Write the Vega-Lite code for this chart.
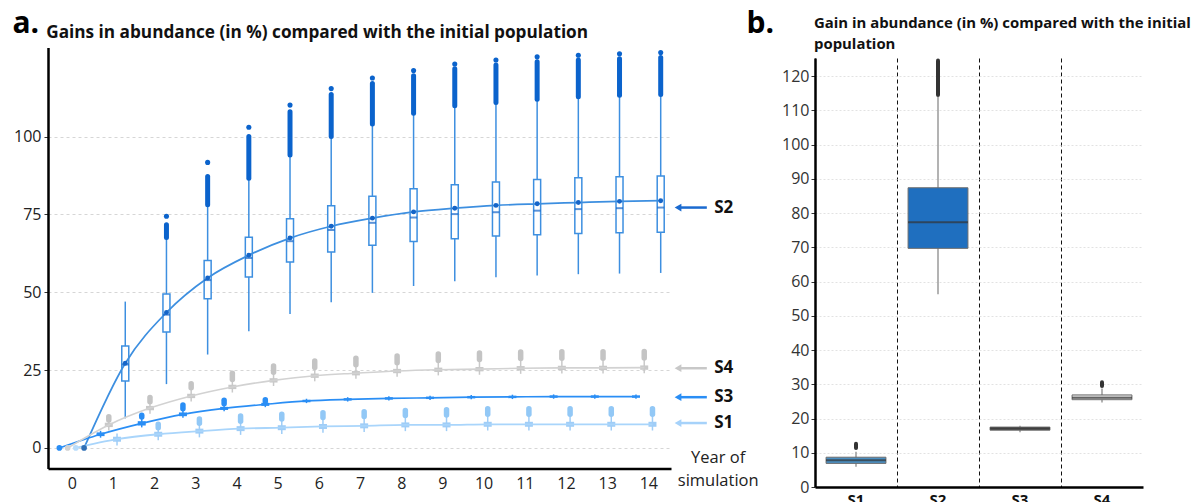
{
  "$schema": "https://vega.github.io/schema/vega-lite/v6.json",
  "padding": {"left": 12, "top": 8, "right": 0, "bottom": 0},
  "spacing": -13,
  "config": {
    "view": {"stroke": null},
    "axis": {"labelFont": "Open Sans", "titleFont": "Open Sans", "labelOverlap": false},
    "text": {"font": "Open Sans"}
  },
  "datasets": {
    "a": [
      {"s": "S2", "year": 0, "mean": 0},
      {"s": "S2", "year": 1, "mean": 27.2, "med": 26.8, "q1": 21.5, "q3": 32.7, "wlo": 9.5, "whi": 47},
      {"s": "S2", "year": 2, "mean": 43.5, "med": 42.8, "q1": 37.2, "q3": 49.4, "wlo": 20.5, "whi": 67.6, "olo": 67.6, "ohi": 71.7, "otop": 74.4},
      {"s": "S2", "year": 3, "mean": 54.6, "med": 53.9, "q1": 47.9, "q3": 60.2, "wlo": 30, "whi": 78.1, "olo": 78.1, "ohi": 87.2, "otop": 91.7},
      {"s": "S2", "year": 4, "mean": 61.9, "med": 61.0, "q1": 54.9, "q3": 67.7, "wlo": 37.5, "whi": 86.6, "olo": 86.6, "ohi": 100, "otop": 103},
      {"s": "S2", "year": 5, "mean": 67.4, "med": 66.4, "q1": 59.7, "q3": 73.6, "wlo": 43, "whi": 94.1, "olo": 94.1, "ohi": 108, "otop": 110.1},
      {"s": "S2", "year": 6, "mean": 71.2, "med": 70.0, "q1": 62.9, "q3": 77.8, "wlo": 46.8, "whi": 100, "olo": 100, "ohi": 113.5, "otop": 115.4},
      {"s": "S2", "year": 7, "mean": 73.8, "med": 72.3, "q1": 65.1, "q3": 80.8, "wlo": 49.8, "whi": 104, "olo": 104, "ohi": 117, "otop": 118.8},
      {"s": "S2", "year": 8, "mean": 75.8, "med": 74.0, "q1": 66.3, "q3": 83.2, "wlo": 52, "whi": 107.5, "olo": 107.5, "ohi": 119.5, "otop": 121.2},
      {"s": "S2", "year": 9, "mean": 77.0, "med": 75.1, "q1": 67.2, "q3": 84.5, "wlo": 53.5, "whi": 109.9, "olo": 109.9, "ohi": 121.8, "otop": 123.3},
      {"s": "S2", "year": 10, "mean": 77.9, "med": 75.7, "q1": 68.1, "q3": 85.4, "wlo": 54.8, "whi": 110.9, "olo": 110.9, "ohi": 123, "otop": 124.6},
      {"s": "S2", "year": 11, "mean": 78.4, "med": 76.2, "q1": 68.5, "q3": 86.2, "wlo": 55.4, "whi": 112, "olo": 112, "ohi": 124, "otop": 125.6},
      {"s": "S2", "year": 12, "mean": 78.8, "med": 76.7, "q1": 68.9, "q3": 86.8, "wlo": 55.8, "whi": 112.8, "olo": 112.8, "ohi": 124.6, "otop": 126.1},
      {"s": "S2", "year": 13, "mean": 79.2, "med": 77.0, "q1": 69.1, "q3": 87.1, "wlo": 56, "whi": 113.3, "olo": 113.3, "ohi": 125, "otop": 126.6},
      {"s": "S2", "year": 14, "mean": 79.4, "med": 77.2, "q1": 69.3, "q3": 87.3, "wlo": 56.2, "whi": 113.5, "olo": 113.5, "ohi": 125.4, "otop": 127},
      {"s": "S1", "year": 0, "mean": 0},
      {"s": "S1", "year": 1, "mean": 2.8, "q1": 2.0, "q3": 3.6, "wlo": 0.8, "whi": 4.6},
      {"s": "S1", "year": 2, "mean": 4.4, "q1": 3.6, "q3": 5.2, "wlo": 2.5, "whi": 6.3, "olo": 6.5, "ohi": 7.6},
      {"s": "S1", "year": 3, "mean": 5.4, "q1": 4.6, "q3": 6.2, "wlo": 3.4, "whi": 7.6, "olo": 7.9, "ohi": 9.3},
      {"s": "S1", "year": 4, "mean": 6.2, "q1": 5.4, "q3": 7.0, "wlo": 4.2, "whi": 8.3, "olo": 8.6, "ohi": 10.3},
      {"s": "S1", "year": 5, "mean": 6.5, "q1": 5.7, "q3": 7.3, "wlo": 4.5, "whi": 9.0, "olo": 9.3, "ohi": 10.8},
      {"s": "S1", "year": 6, "mean": 6.9, "q1": 6.1, "q3": 7.7, "wlo": 4.9, "whi": 9.5, "olo": 9.8, "ohi": 11.3},
      {"s": "S1", "year": 7, "mean": 7.1, "q1": 6.3, "q3": 7.9, "wlo": 5.1, "whi": 9.8, "olo": 10.1, "ohi": 11.6},
      {"s": "S1", "year": 8, "mean": 7.4, "q1": 6.6, "q3": 8.2, "wlo": 5.4, "whi": 10.1, "olo": 10.4, "ohi": 12.0},
      {"s": "S1", "year": 9, "mean": 7.4, "q1": 6.6, "q3": 8.2, "wlo": 5.4, "whi": 10.3, "olo": 10.6, "ohi": 12.3},
      {"s": "S1", "year": 10, "mean": 7.6, "q1": 6.8, "q3": 8.4, "wlo": 5.6, "whi": 10.5, "olo": 10.8, "ohi": 12.6},
      {"s": "S1", "year": 11, "mean": 7.6, "q1": 6.8, "q3": 8.4, "wlo": 5.6, "whi": 10.5, "olo": 10.8, "ohi": 12.6},
      {"s": "S1", "year": 12, "mean": 7.6, "q1": 6.8, "q3": 8.4, "wlo": 5.6, "whi": 10.5, "olo": 10.8, "ohi": 12.6},
      {"s": "S1", "year": 13, "mean": 7.6, "q1": 6.8, "q3": 8.4, "wlo": 5.6, "whi": 10.5, "olo": 10.8, "ohi": 12.6},
      {"s": "S1", "year": 14, "mean": 7.6, "q1": 6.8, "q3": 8.4, "wlo": 5.6, "whi": 10.5, "olo": 10.8, "ohi": 12.6},
      {"s": "S3", "year": 0, "mean": 0},
      {"s": "S3", "year": 1, "mean": 4.4, "q1": 3.8, "q3": 5.0, "wlo": 3.3, "whi": 5.5},
      {"s": "S3", "year": 2, "mean": 7.9, "q1": 7.2, "q3": 8.6, "wlo": 6.6, "whi": 9.3, "olo": 9.9, "ohi": 10.5},
      {"s": "S3", "year": 3, "mean": 10.8, "q1": 10.2, "q3": 11.4, "wlo": 9.7, "whi": 12.0, "olo": 12.6, "ohi": 13.8},
      {"s": "S3", "year": 4, "mean": 12.7, "q1": 12.2, "q3": 13.2, "wlo": 11.8, "whi": 13.7, "olo": 14.2, "ohi": 15.3},
      {"s": "S3", "year": 5, "mean": 14.0, "q1": 13.5, "q3": 14.5, "wlo": 13.1, "whi": 14.6, "olo": 14.9, "ohi": 15.5},
      {"s": "S3", "year": 6, "mean": 15.1, "q1": 14.7, "q3": 15.5, "wlo": 14.4, "whi": 15.8},
      {"s": "S3", "year": 7, "mean": 15.6, "q1": 15.2, "q3": 16.0, "wlo": 14.9, "whi": 16.3},
      {"s": "S3", "year": 8, "mean": 15.9, "q1": 15.5, "q3": 16.3, "wlo": 15.2, "whi": 16.6},
      {"s": "S3", "year": 9, "mean": 16.1, "q1": 15.7, "q3": 16.5, "wlo": 15.4, "whi": 16.8},
      {"s": "S3", "year": 10, "mean": 16.3, "q1": 15.9, "q3": 16.7, "wlo": 15.6, "whi": 17.0},
      {"s": "S3", "year": 11, "mean": 16.4, "q1": 16.0, "q3": 16.8, "wlo": 15.7, "whi": 17.1},
      {"s": "S3", "year": 12, "mean": 16.5, "q1": 16.1, "q3": 16.9, "wlo": 15.8, "whi": 17.2},
      {"s": "S3", "year": 13, "mean": 16.5, "q1": 16.1, "q3": 16.9, "wlo": 15.8, "whi": 17.2},
      {"s": "S3", "year": 14, "mean": 16.5, "q1": 16.1, "q3": 16.9, "wlo": 15.8, "whi": 17.2},
      {"s": "S4", "year": 0, "mean": 0},
      {"s": "S4", "year": 1, "mean": 7.4, "q1": 6.7, "q3": 8.1, "wlo": 5.6, "whi": 8.8, "olo": 9.0, "ohi": 10.0},
      {"s": "S4", "year": 2, "mean": 12.8, "q1": 12.1, "q3": 13.5, "wlo": 11.0, "whi": 14.5, "olo": 14.8, "ohi": 16.2},
      {"s": "S4", "year": 3, "mean": 16.7, "q1": 16.0, "q3": 17.4, "wlo": 14.9, "whi": 19.0, "olo": 19.3, "ohi": 20.6},
      {"s": "S4", "year": 4, "mean": 19.6, "q1": 18.9, "q3": 20.3, "wlo": 17.8, "whi": 21.6, "olo": 22.0, "ohi": 24.0},
      {"s": "S4", "year": 5, "mean": 21.7, "q1": 21.0, "q3": 22.4, "wlo": 19.9, "whi": 23.9, "olo": 24.3, "ohi": 26.3},
      {"s": "S4", "year": 6, "mean": 23.2, "q1": 22.5, "q3": 23.9, "wlo": 21.4, "whi": 25.3, "olo": 25.8, "ohi": 27.9},
      {"s": "S4", "year": 7, "mean": 24.0, "q1": 23.3, "q3": 24.7, "wlo": 22.2, "whi": 26.2, "olo": 26.7, "ohi": 28.8},
      {"s": "S4", "year": 8, "mean": 24.7, "q1": 24.0, "q3": 25.4, "wlo": 22.9, "whi": 26.9, "olo": 27.4, "ohi": 29.5},
      {"s": "S4", "year": 9, "mean": 25.1, "q1": 24.4, "q3": 25.8, "wlo": 23.3, "whi": 27.5, "olo": 28.1, "ohi": 30.2},
      {"s": "S4", "year": 10, "mean": 25.3, "q1": 24.6, "q3": 26.0, "wlo": 23.5, "whi": 27.8, "olo": 28.4, "ohi": 30.5},
      {"s": "S4", "year": 11, "mean": 25.6, "q1": 24.9, "q3": 26.3, "wlo": 23.8, "whi": 28.1, "olo": 28.7, "ohi": 30.8},
      {"s": "S4", "year": 12, "mean": 25.7, "q1": 25.0, "q3": 26.4, "wlo": 23.9, "whi": 28.2, "olo": 28.8, "ohi": 30.9},
      {"s": "S4", "year": 13, "mean": 25.7, "q1": 25.0, "q3": 26.4, "wlo": 23.9, "whi": 28.2, "olo": 28.8, "ohi": 30.9},
      {"s": "S4", "year": 14, "mean": 25.8, "q1": 25.1, "q3": 26.5, "wlo": 24.0, "whi": 28.3, "olo": 28.9, "ohi": 31.0}
    ],
    "ann": [
      {"s": "S2", "v": 77.2},
      {"s": "S4", "v": 25.6},
      {"s": "S3", "v": 16.3},
      {"s": "S1", "v": 8.0}
    ],
    "b": [
      {"s": "S1", "q1": 6.9, "q3": 8.7, "med": 7.8, "wlo": 5.9, "whi": 10.3, "olo": 11.4, "ohi": 12.6},
      {"s": "S2", "q1": 69.7, "q3": 87.4, "med": 77.3, "wlo": 56.3, "whi": 113.9, "olo": 114.5, "ohi": 124.6},
      {"s": "S3", "q1": 16.6, "q3": 17.5, "med": 17.1, "wlo": 16.0, "whi": 17.9},
      {"s": "S4", "q1": 25.5, "q3": 26.9, "med": 26.1, "wlo": 24.7, "whi": 28.8, "olo": 29.5, "ohi": 30.6}
    ]
  },
  "hconcat": [
    {
      "width": 623,
      "height": 410.5,
      "data": {"name": "a"},
      "transform": [{"calculate": "datum.year + (datum.s == 'S3' ? -0.3 : datum.s == 'S4' ? -0.1 : datum.s == 'S1' ? 0.1 : 0.3)", "as": "xp"}],
      "resolve": {"scale": {"color": "independent"}},
      "layer": [
        {
          "transform": [{"filter": "isValid(datum.wlo)"}],
          "mark": {"type": "rule", "strokeWidth": 1.5},
          "encoding": {
            "x": {"field": "xp", "type": "quantitative", "scale": {"domain": [-0.576, 14.55], "nice": false, "zero": false, "padding": 0},
              "axis": {"values": [0,1,2,3,4,5,6,7,8,9,10,11,12,13,14], "tickCount": 30, "format": "d", "grid": false, "ticks": false, "domainColor": "#000", "domainWidth": 2.5, "labelFontSize": 16, "labelColor": "#222", "labelPadding": 7,
                "title": ["Year of", "simulation"], "titleX": 669.7, "titleY": -6, "titleAlign": "center", "titleBaseline": "alphabetic", "titleFontSize": 16.5, "titleFontWeight": "normal", "titleLineHeight": 23, "titleColor": "#222"}},
            "y": {"field": "wlo", "type": "quantitative", "scale": {"domain": [-6.6, 128.6], "range": [410.5, -10.5], "nice": false, "zero": false, "padding": 0},
              "axis": {"values": [0, 25, 50, 75, 100], "tickCount": 30, "grid": true, "gridColor": "#d6d6d6", "gridDash": [3, 3], "domainColor": "#000", "domainWidth": 2.5, "tickColor": "#333", "tickSize": 4, "labelFontSize": 16, "labelColor": "#222", "labelPadding": 3,
                "title": "Gains in abundance (in %) compared with the initial population", "titleAngle": 0, "titleAlign": "left", "titleBaseline": "alphabetic", "titleX": -2.3, "titleY": -20.5, "titleFontSize": 17.2, "titleFontWeight": "bold", "titleColor": "#111"}},
            "y2": {"field": "whi"},
            "color": {"field": "s", "type": "nominal", "scale": {"domain": ["S1", "S2", "S3", "S4"], "range": ["#9fcdf7", "#3d8fe0", "#2a8ef5", "#c9c9c9"]}, "legend": null}
          }
        },
        {
          "transform": [{"filter": "isValid(datum.q1) && datum.s != 'S2'"}],
          "mark": {"type": "bar", "size": 8},
          "encoding": {
            "x": {"field": "xp", "type": "quantitative"},
            "y": {"field": "q1", "type": "quantitative"},
            "y2": {"field": "q3"},
            "color": {"field": "s", "type": "nominal", "scale": {"domain": ["S1", "S3", "S4"], "range": ["#9fcdf7", "#2a8ef5", "#c9c9c9"]}, "legend": null}
          }
        },
        {
          "transform": [{"filter": "isValid(datum.q1) && datum.s == 'S2'"}],
          "mark": {"type": "bar", "size": 7, "fill": "#ffffff", "stroke": "#3d8fe0", "strokeWidth": 1.5},
          "encoding": {
            "x": {"field": "xp", "type": "quantitative"},
            "y": {"field": "q1", "type": "quantitative"},
            "y2": {"field": "q3"}
          }
        },
        {
          "mark": {"type": "line", "interpolate": "monotone"},
          "encoding": {
            "x": {"field": "xp", "type": "quantitative"},
            "y": {"field": "mean", "type": "quantitative"},
            "color": {"field": "s", "type": "nominal", "scale": {"domain": ["S1", "S2", "S3", "S4"], "range": ["#a9d5fb", "#3d8fe0", "#2a8ef5", "#d2d2d2"]}, "legend": null},
            "strokeWidth": {"field": "s", "type": "nominal", "scale": {"domain": ["S1", "S2", "S3", "S4"], "range": [1.8, 1.6, 2.4, 2]}, "legend": null}
          }
        },
        {
          "transform": [{"filter": "isValid(datum.med)"}],
          "mark": {"type": "tick", "orient": "horizontal", "size": 7, "thickness": 2, "color": "#1565c8"},
          "encoding": {
            "x": {"field": "xp", "type": "quantitative"},
            "y": {"field": "med", "type": "quantitative"}
          }
        },
        {
          "transform": [{"filter": "datum.s == 'S2' && datum.year > 0"}],
          "mark": {"type": "point", "filled": true, "size": 24, "opacity": 1, "color": "#1565c8"},
          "encoding": {
            "x": {"field": "xp", "type": "quantitative"},
            "y": {"field": "mean", "type": "quantitative"}
          }
        },
        {
          "transform": [{"filter": "isValid(datum.olo) && datum.s == 'S2'"}],
          "mark": {"type": "rule", "strokeWidth": 5, "strokeCap": "round", "color": "#0b63cc"},
          "encoding": {
            "x": {"field": "xp", "type": "quantitative"},
            "y": {"field": "olo", "type": "quantitative"},
            "y2": {"field": "ohi"}
          }
        },
        {
          "transform": [{"filter": "isValid(datum.olo) && datum.s != 'S2'"}],
          "mark": {"type": "rule", "strokeWidth": 5.5, "strokeCap": "round"},
          "encoding": {
            "x": {"field": "xp", "type": "quantitative"},
            "y": {"field": "olo", "type": "quantitative"},
            "y2": {"field": "ohi"},
            "color": {"field": "s", "type": "nominal", "scale": {"domain": ["S1", "S3", "S4"], "range": ["#92c8f6", "#2a8ef5", "#c4c4c4"]}, "legend": null}
          }
        },
        {
          "transform": [{"filter": "isValid(datum.otop)"}],
          "mark": {"type": "point", "filled": true, "size": 26, "opacity": 1, "color": "#0b63cc"},
          "encoding": {
            "x": {"field": "xp", "type": "quantitative"},
            "y": {"field": "otop", "type": "quantitative"}
          }
        },
        {
          "transform": [{"filter": "datum.year == 0"}],
          "mark": {"type": "point", "filled": true, "size": 32, "opacity": 1},
          "encoding": {
            "x": {"field": "xp", "type": "quantitative"},
            "y": {"field": "mean", "type": "quantitative"},
            "color": {"field": "s", "type": "nominal", "scale": {"domain": ["S1", "S2", "S3", "S4"], "range": ["#b8dcfb", "#2f6fb5", "#2a8ef5", "#d2d2d2"]}, "legend": null}
          }
        },
        {
          "data": {"name": "ann"},
          "mark": {"type": "rule", "strokeWidth": 2.5},
          "encoding": {
            "x": {"datum": 14.75, "type": "quantitative"},
            "x2": {"datum": 15.42},
            "y": {"field": "v", "type": "quantitative"},
            "color": {"field": "s", "type": "nominal", "scale": {"domain": ["S1", "S2", "S3", "S4"], "range": ["#a6d2fa", "#1a6ad0", "#2a8ef5", "#c8c8c8"]}, "legend": null}
          }
        },
        {
          "data": {"name": "ann"},
          "mark": {"type": "point", "shape": "triangle-left", "filled": true, "size": 60, "opacity": 1},
          "encoding": {
            "x": {"datum": 14.72, "type": "quantitative"},
            "y": {"field": "v", "type": "quantitative"},
            "color": {"field": "s", "type": "nominal", "scale": {"domain": ["S1", "S2", "S3", "S4"], "range": ["#a6d2fa", "#1a6ad0", "#2a8ef5", "#c8c8c8"]}, "legend": null}
          }
        },
        {
          "data": {"name": "ann"},
          "mark": {"type": "text", "align": "left", "baseline": "middle", "fontSize": 17, "fontWeight": "bold", "color": "#111"},
          "encoding": {
            "x": {"datum": 15.6, "type": "quantitative"},
            "y": {"field": "v", "type": "quantitative"},
            "text": {"field": "s"}
          }
        },
        {
          "data": {"values": [{"t": "a."}]},
          "mark": {"type": "text", "align": "left", "baseline": "alphabetic", "fontSize": 30, "fontWeight": "bold", "color": "#000"},
          "encoding": {
            "x": {"datum": -1.44, "type": "quantitative"},
            "y": {"datum": 133.2, "type": "quantitative"},
            "text": {"field": "t"}
          }
        }
      ]
    },
    {
      "width": 328,
      "height": 429,
      "data": {"name": "b"},
      "layer": [
        {
          "mark": {"type": "rule", "strokeWidth": 1.5, "color": "#9a9a9a"},
          "encoding": {
            "x": {"field": "s", "type": "nominal", "scale": {"type": "band", "domain": ["S1", "S2", "S3", "S4"], "paddingInner": 0, "paddingOuter": 0},
              "axis": {"title": null, "ticks": false, "grid": true, "gridColor": "#111", "gridDash": [4, 3], "gridWidth": 1, "bandPosition": 0, "domainColor": "#000", "domainWidth": 2.5, "labelFontSize": 15, "labelFontWeight": "bold", "labelColor": "#111", "labelPadding": 5, "labelAngle": 0}},
            "y": {"field": "wlo", "type": "quantitative", "scale": {"domain": [0, 125.3], "nice": false, "zero": false},
              "axis": {"values": [0, 10, 20, 30, 40, 50, 60, 70, 80, 90, 100, 110, 120], "tickCount": 30, "grid": true, "gridColor": "#e2e2e2", "gridDash": [2, 2], "domainColor": "#000", "domainWidth": 2.5, "tickColor": "#333", "tickSize": 4, "labelFontSize": 16, "labelColor": "#333", "labelPadding": 2,
                "title": ["Gain in abundance (in %) compared with the initial", "population"], "titleAngle": 0, "titleAlign": "left", "titleBaseline": "alphabetic", "titleX": -1.5, "titleY": -30.5, "titleLineHeight": 21, "titleFontSize": 14.9, "titleFontWeight": "bold", "titleColor": "#111"}},
            "y2": {"field": "whi"}
          }
        },
        {
          "transform": [{"filter": "isValid(datum.olo)"}],
          "mark": {"type": "rule", "strokeWidth": 4, "strokeCap": "round", "color": "#333333"},
          "encoding": {
            "x": {"field": "s", "type": "nominal"},
            "y": {"field": "olo", "type": "quantitative"},
            "y2": {"field": "ohi"}
          }
        },
        {
          "mark": {"type": "bar", "width": {"band": 0.73}, "stroke": "#6e6e6e", "strokeWidth": 1},
          "encoding": {
            "x": {"field": "s", "type": "nominal"},
            "y": {"field": "q1", "type": "quantitative"},
            "y2": {"field": "q3"},
            "color": {"field": "s", "type": "nominal", "scale": {"domain": ["S1", "S2", "S3", "S4"], "range": ["#4a8fc2", "#1f6fbf", "#5a5a5a", "#d8d8d8"]}, "legend": null}
          }
        },
        {
          "mark": {"type": "tick", "orient": "horizontal", "size": 60, "thickness": 2, "color": "#333333"},
          "encoding": {
            "x": {"field": "s", "type": "nominal"},
            "y": {"field": "med", "type": "quantitative"}
          }
        },
        {
          "data": {"values": [{"t": "b."}]},
          "mark": {"type": "text", "align": "left", "baseline": "alphabetic", "fontSize": 30, "fontWeight": "bold", "color": "#000", "dx": -109.5},
          "encoding": {
            "x": {"datum": "S1", "type": "nominal"},
            "y": {"datum": 132.74, "type": "quantitative"},
            "text": {"field": "t"}
          }
        }
      ]
    }
  ]
}
